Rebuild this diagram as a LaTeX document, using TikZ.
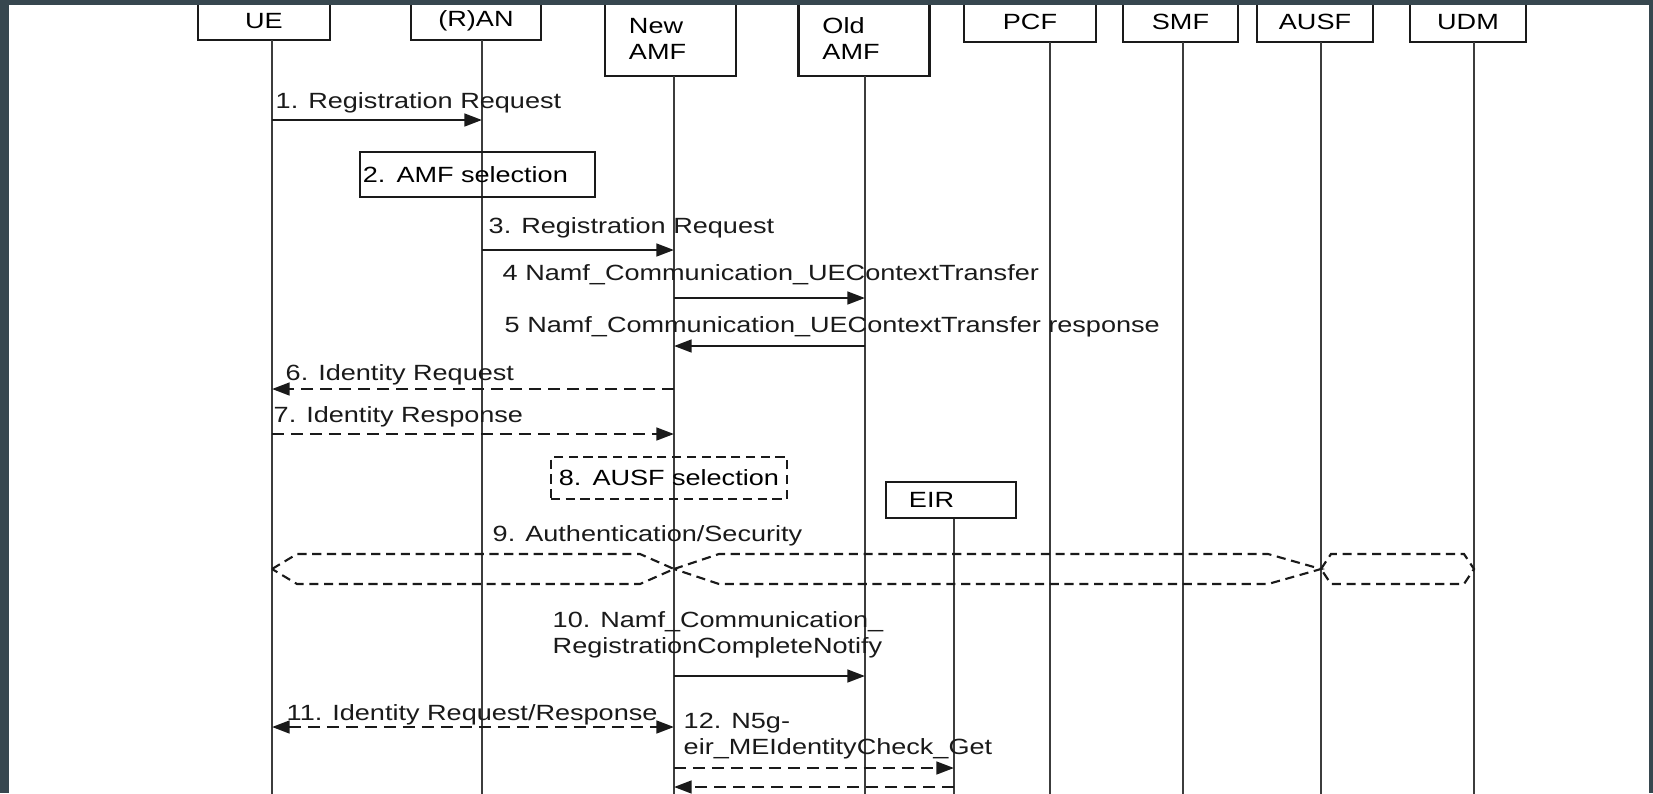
\documentclass[tikz,border=0pt]{standalone}
\usepackage{fontspec}
\setmainfont{Liberation Sans}[FakeStretch=1.23]
\usepackage{tikz}
\usetikzlibrary{arrows.meta, calc}
\definecolor{Frame}{HTML}{37474F}
\definecolor{Ink}  {HTML}{1A1A1A}

\begin{document}
\begin{tikzpicture}[x=0.01cm, y=-0.01cm,
    font=\fontsize{6.26}{7.4}\selectfont,
    >={Triangle[length=5pt, width=3.6pt]},
    hdr/.style={draw=Ink, line width=0.7pt, inner sep=0pt},
    life/.style={Ink!85, line width=0.8pt},
    msg/.style={Ink, line width=0.7pt, ->},
    msgdash/.style={msg, dash pattern=on 3.4pt off 2pt},
    lbl/.style={anchor=base west, inner sep=0pt, text=Ink},
    authline/.style={Ink, line width=0.6pt, dash pattern=on 2.6pt off 1.6pt}]
      \useasboundingbox (0,0) rectangle (1653,793);
      \fill[white] (0,0) rectangle (1653,793);

      % ── header boxes ──────────────────────────────────────────────────────────
      \foreach \nm/\cx/\cy/\w/\h/\lab in {ue/264/21/1.32/0.38/UE, ran/476/21/1.30/0.38/(R)AN,
          pcf/1030/22/1.32/0.40/PCF, smf/1180.5/22/1.15/0.40/SMF,
          ausf/1315/22/1.16/0.40/AUSF, udm/1468/22/1.16/0.40/UDM} {
        \node[hdr, minimum width=\w cm, minimum height=\h cm] (\nm) at (\cx,\cy) {\lab};
      }
      \foreach \nm/\cx/\lab in {new/670.5/New, old/864/Old} {
        \node[hdr, minimum height=0.74cm, text width=0.83cm, inner xsep=0.24cm, align=left]
          (\nm) at (\cx,39) {\lab\\AMF};
      }

      % ── lifelines ─────────────────────────────────────────────────────────────
      \coordinate (ueL)   at (272,40);
      \coordinate (ranL)  at (482,40);
      \coordinate (newL)  at (674,76);
      \coordinate (oldL)  at (865,76);
      \coordinate (pcfL)  at (1050,42);
      \coordinate (smfL)  at (1183,42);
      \coordinate (ausfL) at (1321,42);
      \coordinate (udmL)  at (1474,42);
      \coordinate (eirL)  at (954,518);
      \foreach \c in {ueL,ranL,newL,oldL,pcfL,smfL,ausfL,udmL,eirL} {
        \draw[life] (\c) -- (\c|-0,800);
      }

      % ── local boxes ───────────────────────────────────────────────────────────
      \node[hdr, minimum width=2.35cm, minimum height=0.45cm, text width=2.29cm,
        inner xsep=0.03cm, align=left] (amfsel) at (477.5,174.5) {2. AMF selection};
      \node[hdr, dash pattern=on 2.6pt off 1.6pt, minimum width=2.36cm, minimum height=0.42cm,
        text width=2.20cm, inner xsep=0.08cm, align=left] (ausfsel) at (669,478) {8. AUSF selection};
      \node[hdr, minimum width=1.30cm, minimum height=0.36cm, text width=0.84cm,
        inner xsep=0.23cm, align=left] (eir) at (951,500) {EIR};

      % ── messages ──────────────────────────────────────────────────────────────
      \draw[msg]     (ueL|-0,120) -- (ranL|-0,120);
      \draw[msg]     (ranL|-0,250) -- (newL|-0,250);
      \draw[msg]     (newL|-0,298) -- (oldL|-0,298);
      \draw[msg]     (oldL|-0,346) -- (newL|-0,346);
      \draw[msgdash] (newL|-0,389) -- (ueL|-0,389);
      \draw[msgdash] (ueL|-0,434) -- (newL|-0,434);
      \draw[msg]     (newL|-0,676) -- (oldL|-0,676);
      \draw[msgdash, <->] (ueL|-0,727) -- (newL|-0,727);
      \draw[msgdash] (newL|-0,768) -- (eirL|-0,768);
      \draw[msgdash] (eirL|-0,787) -- (newL|-0,787);

      % 9: authentication block arrows
      \foreach \a/\b/\hl/\hr in {ueL/newL/25/34, newL/ausfL/45/53, ausfL/udmL/10/10} {
        \draw[authline] (\a|-0,569) -- ($(\a|-0,554)+(\hl,0)$) -- ($(\b|-0,554)+(-\hr,0)$)
          -- (\b|-0,569) -- ($(\b|-0,584)+(-\hr,0)$) -- ($(\a|-0,584)+(\hl,0)$) -- cycle;
      }

      % ── message labels ────────────────────────────────────────────────────────
      \node[lbl] (l1) at (275,108) {1. Registration Request};
      \node[lbl] (l3) at (488,233) {3. Registration Request};
      \node[lbl] (l4) at (502,280) {4 Namf\_Communication\_UEContextTransfer};
      \node[lbl] (l5) at (504,332) {5 Namf\_Communication\_UEContextTransfer response};
      \node[lbl] (l6) at (285,380) {6. Identity Request};
      \node[lbl] (l7) at (273,422) {7. Identity Response};
      \node[lbl] (l9) at (492,541) {9. Authentication/Security};
      \node[lbl, anchor=north west, align=left] (l10) at (552,611)
        {10. Namf\_Communication\_\\RegistrationCompleteNotify};
      \node[lbl] (l11) at (286,720) {11. Identity Request/Response};
      \node[lbl, anchor=north west, align=left] (l12) at (683,712)
        {12. N5g-\\eir\_MEIdentityCheck\_Get};

      % ── dark frame ────────────────────────────────────────────────────────────
      \fill[Frame] (0,0) rectangle (1653,5);
      \fill[Frame] (0,0) rectangle (9,793);
      \fill[Frame] (1649,0) rectangle (1653,793);
    \end{tikzpicture}
\end{document}
